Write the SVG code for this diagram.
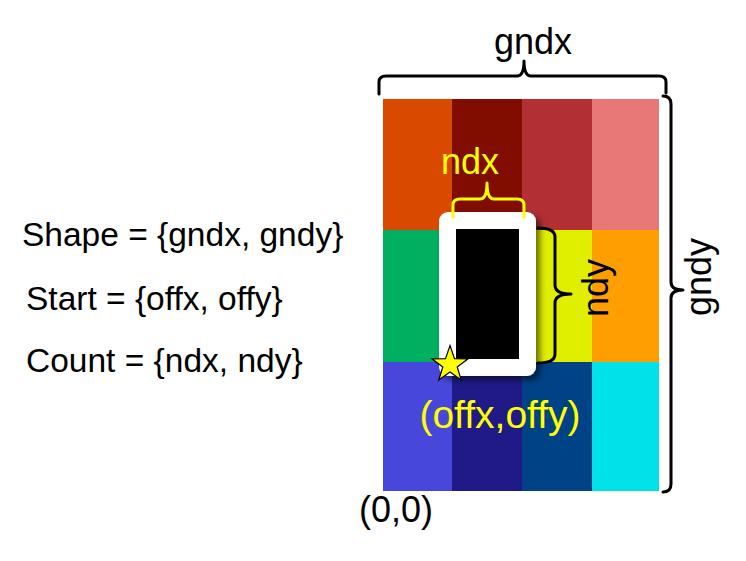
<svg xmlns="http://www.w3.org/2000/svg" width="746" height="561" viewBox="0 0 746 561">
  <defs>
    <style>
      .lbl { font-family: "Liberation Sans", Arial, sans-serif; }
      .eq { font-size: 33.5px; fill: #000; }
      .dim { font-size: 36px; fill: #000; }
      .ylw { fill: #FFFF00; }
      .brace { fill: none; stroke: #000; stroke-width: 3; stroke-linejoin: round; stroke-linecap: round; }
      .brace-y { fill: none; stroke: #FFFF00; stroke-width: 3; stroke-linejoin: round; stroke-linecap: round; }
    </style>
    <filter id="shadow" x="-20%" y="-20%" width="150%" height="150%">
      <feDropShadow dx="4" dy="4" stdDeviation="3" flood-color="#000" flood-opacity="0.55"/>
    </filter>
  </defs>

  <rect width="746" height="561" fill="#fff"/>

  <!-- formula text on the left -->
  <g id="formulas" class="lbl eq">
    <text x="22" y="246">Shape = {gndx, gndy}</text>
    <text x="26" y="310">Start = {offx, offy}</text>
    <text x="26" y="372">Count = {ndx, ndy}</text>
  </g>

  <!-- 4 x 3 global grid -->
  <g id="grid">
    <rect x="383" y="99" width="69" height="131" fill="#D94A00"/>
    <rect x="452" y="99" width="70" height="131" fill="#800D00"/>
    <rect x="522" y="99" width="70" height="131" fill="#B22F34"/>
    <rect x="592" y="99" width="67" height="131" fill="#E87877"/>
    <rect x="383" y="230" width="69" height="132" fill="#00AF5F"/>
    <rect x="452" y="230" width="70" height="132" fill="#7FC800"/>
    <rect x="522" y="230" width="70" height="132" fill="#E0EF00"/>
    <rect x="592" y="230" width="67" height="132" fill="#FF9E00"/>
    <rect x="383" y="362" width="69" height="129" fill="#4747DB"/>
    <rect x="452" y="362" width="70" height="129" fill="#1F1A88"/>
    <rect x="522" y="362" width="70" height="129" fill="#004286"/>
    <rect x="592" y="362" width="67" height="129" fill="#00E1E9"/>
  </g>

  <!-- selected block -->
  <g id="block">
    <rect x="439" y="212" width="97" height="164" rx="9" fill="#fff" filter="url(#shadow)"/>
    <rect x="456" y="229" width="63" height="130" fill="#000"/>
  </g>

  <!-- start point marker -->
  <g id="start-marker">
    <polygon points="450,345.5 454.5,358.7 468.1,358.8 457.2,366.9 461.2,380 450,372.1 438.8,380 442.8,366.9 431.9,358.8 445.5,358.7" fill="#FFFF00" stroke="#000" stroke-width="1.2" stroke-linejoin="miter"/>
  </g>

  <!-- braces -->
  <g id="connectors">
    <path class="brace" d="M379,94 L379,82 Q379,76 386,76 L517,76 Q524,76 524,61 Q524,76 531,76 L659,76 Q666,76 666,82 L666,93"/>
    <path class="brace" d="M663,96 Q671,96 671,104 L671,282 Q671,290 683,290 Q671,290 671,298 L671,484 Q671,492 663,492"/>
    <path class="brace" d="M538,228 Q555,228 555,237 L555,285 Q555,294 571,294 Q555,294 555,303 L555,354 Q555,363 538,363"/>
    <path class="brace-y" d="M453,217 L453,205 Q453,199 460,199 L480,199 Q487,199 487,183 Q487,199 494,199 L517,199 Q524,199 524,205 L524,217"/>
  </g>

  <!-- dimension labels -->
  <g id="labels" class="lbl">
    <text class="dim" x="533" y="54" text-anchor="middle">gndx</text>
    <text class="dim" transform="translate(711,277) rotate(-90)" text-anchor="middle">gndy</text>
    <text class="dim ylw" x="470" y="174" text-anchor="middle">ndx</text>
    <text class="dim" transform="translate(608,288) rotate(-90)" text-anchor="middle">ndy</text>
    <text class="ylw" x="500" y="428" font-size="39" text-anchor="middle">(offx,offy)</text>
    <text class="dim" x="359" y="522">(0,0)</text>
  </g>
</svg>
